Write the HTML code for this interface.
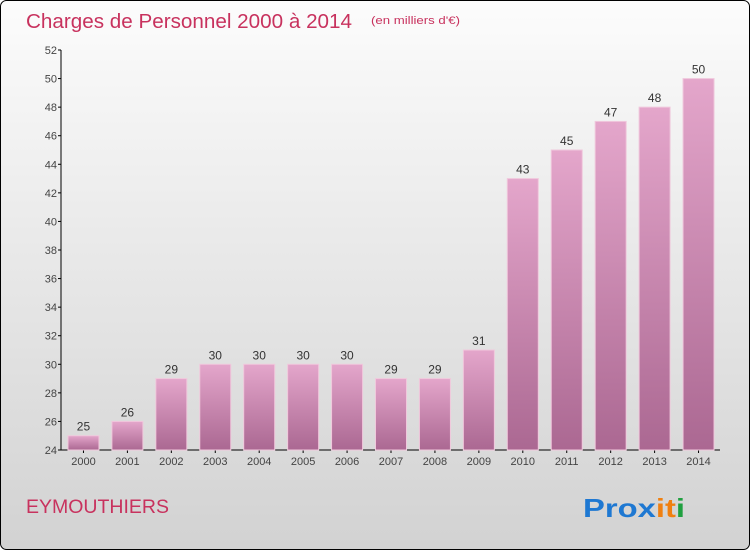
<!DOCTYPE html>
<html><head><meta charset="utf-8"><style>
body{margin:0;width:750px;height:550px;overflow:hidden;font-family:"Liberation Sans",sans-serif}
</style></head><body>
<svg width="750" height="550" viewBox="0 0 750 550">
<defs>
<linearGradient id="bg" x1="0" y1="0" x2="0" y2="1"><stop offset="0" stop-color="#fcfcfc"/><stop offset="1" stop-color="#d2d2d2"/></linearGradient>
<linearGradient id="bar" x1="0" y1="0" x2="0" y2="1"><stop offset="0" stop-color="#e4a6cb"/><stop offset="1" stop-color="#ab6892"/></linearGradient>
</defs>
<rect x="0.5" y="0.5" width="749" height="549" rx="6" fill="url(#bg)" stroke="#000"/>
<text x="26" y="28" font-size="20" fill="#c8325e" textLength="326" lengthAdjust="spacingAndGlyphs">Charges de Personnel 2000 à 2014</text>
<text x="371" y="24" font-size="11" fill="#c8325e" textLength="89" lengthAdjust="spacingAndGlyphs">(en milliers d'€)</text>
<text x="26" y="513" font-size="19" fill="#c8325e" textLength="143" lengthAdjust="spacingAndGlyphs">EYMOUTHIERS</text>
<text x="583" y="517" font-size="26" font-weight="bold" textLength="102" lengthAdjust="spacingAndGlyphs"><tspan fill="#1e78d2">Prox</tspan><tspan fill="#f08010">it</tspan><tspan fill="#20a040">i</tspan></text>
<g id="axes"></g>
<g id="bars"></g>
</svg>
<script>
const years=["2000","2001","2002","2003","2004","2005","2006","2007","2008","2009","2010","2011","2012","2013","2014"];
const values=[25,26,29,30,30,30,30,29,29,31,43,45,47,48,50];
const yTicks=[24,26,28,30,32,34,36,38,40,42,44,46,48,50,52];
const NS="http://www.w3.org/2000/svg";
const x0=61,x1=720,yBase=450,yTop=50,vMin=24,vMax=52;
function y(v){return yBase-(v-vMin)/(vMax-vMin)*(yBase-yTop);}
const step=(x1-x0)/years.length;
function xc(i){return x0+step*(i+0.5)+0.5;}
function mk(tag,attrs,parent){const e=document.createElementNS(NS,tag);for(const k in attrs)e.setAttribute(k,attrs[k]);parent.appendChild(e);return e;}
const ax=document.getElementById('axes'),bg=document.getElementById('bars');
let l=mk('line',{x1:x0,y1:yTop,x2:x0,y2:yBase,stroke:'#000'},ax);


l=mk('line',{x1:x0,y1:yBase,x2:x1,y2:yBase,stroke:'#000'},ax);


yTicks.forEach(t=>{
 mk('line',{x1:x0-3,y1:y(t),x2:x0,y2:y(t),stroke:'#000'},ax);
 const tx=mk('text',{x:x0-4,y:y(t)+4,'font-size':11,'text-anchor':'end',fill:'#444'},ax);
 tx.textContent=t;
 
 
});
years.forEach((yr,i)=>{
 const c=xc(i),w=31;
 const r=mk('rect',{x:c-w/2,y:y(values[i]),width:w,height:yBase-y(values[i]),fill:'url(#bar)',stroke:'#f0c8dc','stroke-width':1},bg);
 
 
 const v=mk('text',{x:c,y:y(values[i])-5,'font-size':12,'text-anchor':'middle',fill:'#333'},bg);
 v.textContent=values[i];
 
 
 mk('line',{x1:c,y1:yBase,x2:c,y2:yBase+3,stroke:'#000'},ax);
 const t=mk('text',{x:c,y:yBase+15,'font-size':11,'text-anchor':'middle',fill:'#444'},ax);
 t.textContent=yr;
 
 
});
</script>
</body></html>
